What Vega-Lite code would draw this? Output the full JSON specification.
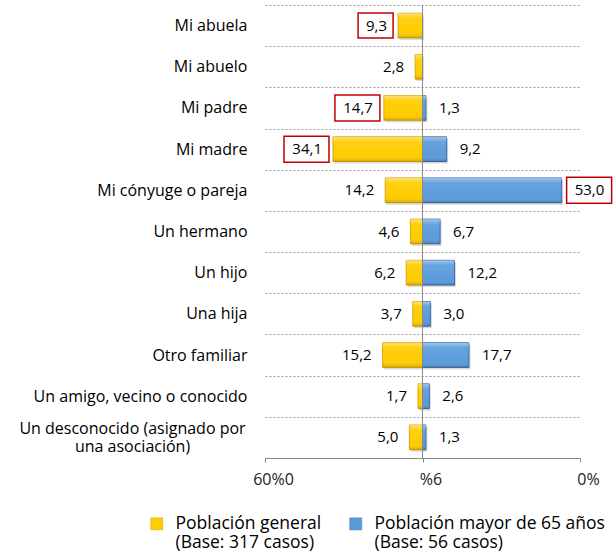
{
  "$schema": "https://vega.github.io/schema/vega-lite/v6.json",
  "width": 315,
  "height": 453,
  "autosize": "none",
  "padding": {"left": 265, "top": 5, "right": 33, "bottom": 98},
  "background": "white",
  "config": {
    "view": {"stroke": null},
    "locale": {"number": {"decimal": ",", "thousands": ".", "grouping": [3], "currency": ["", " €"]}}
  },
  "data": {
    "values": [
      {"categoria": "Mi abuela", "grupo": "general", "valor": 9.3, "resaltado": true},
      {"categoria": "Mi abuelo", "grupo": "general", "valor": 2.8, "resaltado": false},
      {"categoria": "Mi padre", "grupo": "general", "valor": 14.7, "resaltado": true},
      {"categoria": "Mi madre", "grupo": "general", "valor": 34.1, "resaltado": true},
      {"categoria": "Mi cónyuge o pareja", "grupo": "general", "valor": 14.2, "resaltado": false},
      {"categoria": "Un hermano", "grupo": "general", "valor": 4.6, "resaltado": false},
      {"categoria": "Un hijo", "grupo": "general", "valor": 6.2, "resaltado": false},
      {"categoria": "Una hija", "grupo": "general", "valor": 3.7, "resaltado": false},
      {"categoria": "Otro familiar", "grupo": "general", "valor": 15.2, "resaltado": false},
      {"categoria": "Un amigo, vecino o conocido", "grupo": "general", "valor": 1.7, "resaltado": false},
      {"categoria": "Un desconocido (asignado por una asociación)", "grupo": "general", "valor": 5.0, "resaltado": false},
      {"categoria": "Mi padre", "grupo": "mayor", "valor": 1.3, "resaltado": false},
      {"categoria": "Mi madre", "grupo": "mayor", "valor": 9.2, "resaltado": false},
      {"categoria": "Mi cónyuge o pareja", "grupo": "mayor", "valor": 53.0, "resaltado": true},
      {"categoria": "Un hermano", "grupo": "mayor", "valor": 6.7, "resaltado": false},
      {"categoria": "Un hijo", "grupo": "mayor", "valor": 12.2, "resaltado": false},
      {"categoria": "Una hija", "grupo": "mayor", "valor": 3.0, "resaltado": false},
      {"categoria": "Otro familiar", "grupo": "mayor", "valor": 17.7, "resaltado": false},
      {"categoria": "Un amigo, vecino o conocido", "grupo": "mayor", "valor": 2.6, "resaltado": false},
      {"categoria": "Un desconocido (asignado por una asociación)", "grupo": "mayor", "valor": 1.3, "resaltado": false}
    ]
  },
  "transform": [
    {"calculate": "datum.grupo == 'general' ? -datum.valor : datum.valor", "as": "pos"}
  ],
  "layer": [
    {
      "mark": {"type": "bar", "height": {"band": 0.6}, "fill": "#000", "opacity": 0.15, "xOffset": 1.5, "x2Offset": 1.5, "yOffset": 2, "y2Offset": 2},
      "encoding": {
        "y": {
          "field": "categoria", "type": "nominal", "sort": null,
          "scale": {"paddingInner": 0, "paddingOuter": 0},
          "axis": {
            "title": null, "domain": false, "ticks": false, "grid": true, "tickBand": "extent",
            "gridColor": "#999", "gridDash": [2, 2], "gridWidth": 1,
            "labelFont": "Open Sans", "labelFontSize": 16, "labelColor": "#000",
            "labelLimit": 300, "labelLineHeight": 18,
            "labelPadding": {"condition": {"test": "datum.value == 'Un desconocido (asignado por una asociación)'", "value": 133}, "value": 18},
            "labelAlign": {"condition": {"test": "datum.value == 'Un desconocido (asignado por una asociación)'", "value": "center"}, "value": "right"},
            "labelOffset": {"condition": {"test": "datum.value == 'Un desconocido (asignado por una asociación)'", "value": -9}, "value": 0},
            "labelExpr": "datum.value == 'Un desconocido (asignado por una asociación)' ? ['Un desconocido (asignado por', 'una asociación)'] : datum.label"
          }
        },
        "x": {
          "field": "pos", "type": "quantitative",
          "scale": {"domain": [-60, 60], "nice": false},
          "axis": {
            "title": null, "values": [-60, 0, 60], "grid": false,
            "labelExpr": "datum.value < 0 ? '60%0' : datum.value == 0 ? '%6' : '0%'",
            "labelFlush": false, "domainColor": "#888", "tickColor": "#888", "tickSize": 4,
            "labelFont": "Open Sans", "labelFontSize": 16, "labelColor": "#222",
            "labelPadding": 9, "labelOffset": 8
          }
        },
        "x2": {"datum": 0}
      }
    },
    {
      "mark": {"type": "bar", "height": {"band": 0.6}, "strokeWidth": 1},
      "encoding": {
        "y": {"field": "categoria", "type": "nominal", "sort": null},
        "x": {"field": "pos", "type": "quantitative"},
        "x2": {"datum": 0},
        "color": {
          "field": "grupo", "type": "nominal",
          "scale": {"domain": ["general", "mayor"], "range": ["#FFCC00", "#5B9BDB"]},
          "legend": {
            "title": null, "orient": "none", "legendX": -117, "legendY": 510,
            "direction": "horizontal", "symbolType": "square", "symbolSize": 144,
            "symbolStrokeWidth": 0.5, "labelFont": "Open Sans", "labelFontSize": 17.5,
            "labelColor": "#000", "labelLineHeight": 20, "labelBaseline": "middle",
            "columnPadding": 25, "labelOffset": 10, "labelLimit": 400,
            "labelExpr": "datum.value == 'general' ? ['Población general', '(Base: 317 casos)'] : ['Población mayor de 65 años', '(Base: 56 casos)']"
          }
        },
        "stroke": {
          "field": "grupo", "type": "nominal",
          "scale": {"domain": ["general", "mayor"], "range": ["#D9A500", "#3A6CAE"]},
          "legend": null
        }
      }
    },
    {
      "mark": {
        "type": "bar", "height": {"band": 0.6},
        "fill": {
          "x1": 0, "y1": 0, "x2": 0, "y2": 1, "gradient": "linear",
          "stops": [
            {"offset": 0, "color": "rgba(255,255,255,0.45)"},
            {"offset": 0.2, "color": "rgba(255,255,255,0.08)"},
            {"offset": 0.75, "color": "rgba(255,255,255,0)"},
            {"offset": 1, "color": "rgba(0,0,0,0.18)"}
          ]
        }
      },
      "encoding": {
        "y": {"field": "categoria", "type": "nominal", "sort": null},
        "x": {"field": "pos", "type": "quantitative"},
        "x2": {"datum": 0}
      }
    },
    {
      "transform": [{"filter": "datum.grupo == 'general'"}],
      "mark": {"type": "text", "align": "right", "dx": -11, "font": "Open Sans", "fontSize": 15, "color": "#000"},
      "encoding": {
        "y": {"field": "categoria", "type": "nominal", "sort": null},
        "x": {"field": "pos", "type": "quantitative"},
        "text": {"field": "valor", "type": "quantitative", "format": ".1f"}
      }
    },
    {
      "transform": [{"filter": "datum.grupo == 'mayor'"}],
      "mark": {"type": "text", "align": "left", "dx": 13, "font": "Open Sans", "fontSize": 15, "color": "#000"},
      "encoding": {
        "y": {"field": "categoria", "type": "nominal", "sort": null},
        "x": {"field": "pos", "type": "quantitative"},
        "text": {"field": "valor", "type": "quantitative", "format": ".1f"}
      }
    },
    {
      "transform": [{"filter": "datum.resaltado"}],
      "mark": {"type": "point", "filled": false, "stroke": "#C00000", "strokeWidth": 1.5, "size": 4, "opacity": 1},
      "encoding": {
        "y": {"field": "categoria", "type": "nominal", "sort": null},
        "x": {"field": "pos", "type": "quantitative"},
        "shape": {
          "condition": [
            {"test": "datum.grupo == 'mayor'", "value": "M5,-13H50V13H5Z"},
            {"test": "datum.valor < 10", "value": "M-40,-12.5H-5V12.5H-40Z"}
          ],
          "value": "M-49,-13H-4V13H-49Z"
        }
      }
    },
    {
      "data": {"values": [{}]},
      "mark": {"type": "rule", "color": "#888", "strokeWidth": 1},
      "encoding": {"x": {"datum": 0}}
    }
  ]
}
